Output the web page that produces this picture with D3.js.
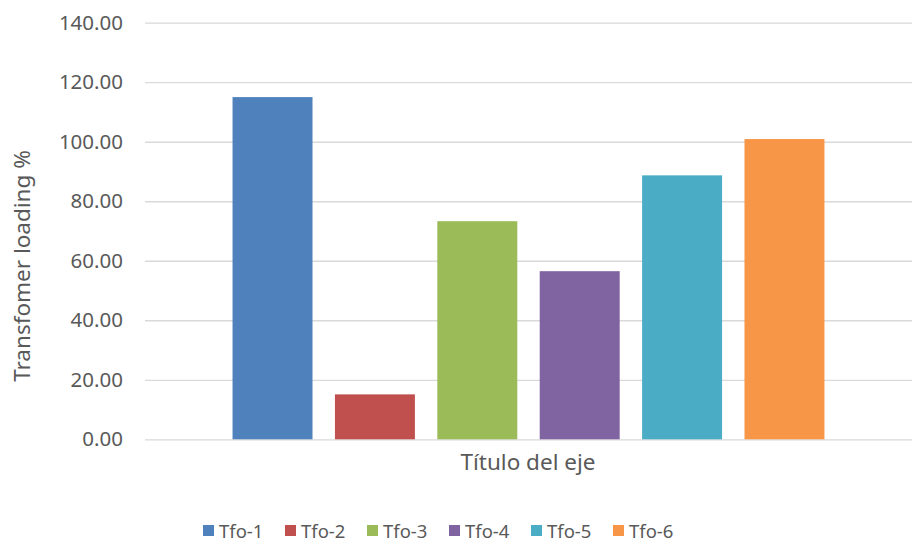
<!DOCTYPE html>
<html>
<head>
<meta charset="utf-8">
<script src="https://cdn.jsdelivr.net/npm/d3@7"></script>
<style>
  body { margin: 0; background: #fff; }
  svg { display: block; font-family: "Noto Sans", sans-serif; }
</style>
</head>
<body>
<svg id="chart" width="914" height="548"></svg>
<script>
// data
var seriesNames = ['Tfo-1', 'Tfo-2', 'Tfo-3', 'Tfo-4', 'Tfo-5', 'Tfo-6'];
var loading = [115.0, 15.1, 73.3, 56.5, 88.7, 100.9];
var colors = ['#4F81BD', '#C0504D', '#9BBB59', '#8064A2', '#4BACC6', '#F79646'];
var yTicks = [0, 20, 40, 60, 80, 100, 120, 140];
const Y_TITLE = 'Transfomer loading %';
const X_TITLE = 'Título del eje';

const svg = d3.select('#chart');
const plotLeft = 145, plotRight = 912, plotTop = 22.7, plotBottom = 439.3;
const textColor = '#595959';

var x = d3.scaleBand()
  .domain(seriesNames)
  .range([plotLeft, plotRight])
  .paddingInner(0.219)
  .paddingOuter(0.855);

var y = d3.scaleLinear()
  .domain([0, 140])
  .range([plotBottom, plotTop]);

// gridlines + tick labels
var yAxis = d3.axisLeft(y)
  .tickValues(yTicks)
  .tickSize(-(plotRight - plotLeft))
  .tickPadding(22)
  .tickFormat(d3.format('.2f'));

var gAxis = svg.append('g')
  .attr('transform', `translate(${plotLeft},0)`)
  .call(yAxis);
gAxis.select('.domain').remove();
gAxis.selectAll('.tick line').attr('stroke', '#D9D9D9').attr('stroke-width', 1.3);
gAxis.selectAll('.tick text')
  .attr('fill', textColor)
  .style('font-size', '20.5px')
  .style('font-family', '"Noto Sans", sans-serif');

// bars
svg.append('g')
  .selectAll('rect')
  .data(loading)
  .enter()
  .append('rect')
  .attr('x', (d, i) => x(seriesNames[i]))
  .attr('y', d => y(d))
  .attr('width', x.bandwidth())
  .attr('height', d => y(0) - y(d))
  .attr('fill', (d, i) => colors[i]);

// axis titles
svg.append('text')
  .attr('transform', 'translate(30,266) rotate(-90)')
  .attr('text-anchor', 'middle')
  .attr('fill', textColor)
  .style('font-size', '22.5px')
  .text(Y_TITLE);

svg.append('text')
  .attr('x', 528)
  .attr('y', 470)
  .attr('text-anchor', 'middle')
  .attr('fill', textColor)
  .style('font-size', '22.5px')
  .text(X_TITLE);

// legend
var legendX = d3.scalePoint()
  .domain(seriesNames)
  .range([203, 613]);

var legend = svg.append('g')
  .selectAll('g')
  .data(seriesNames)
  .enter()
  .append('g')
  .attr('transform', d => `translate(${legendX(d)},0)`);

legend.append('rect')
  .attr('x', 0)
  .attr('y', 525)
  .attr('width', 11)
  .attr('height', 11)
  .attr('fill', (d, i) => colors[i]);

legend.append('text')
  .attr('x', 16)
  .attr('y', 538)
  .attr('fill', textColor)
  .style('font-size', '18.5px')
  .text(d => d);
</script>
</body>
</html>
